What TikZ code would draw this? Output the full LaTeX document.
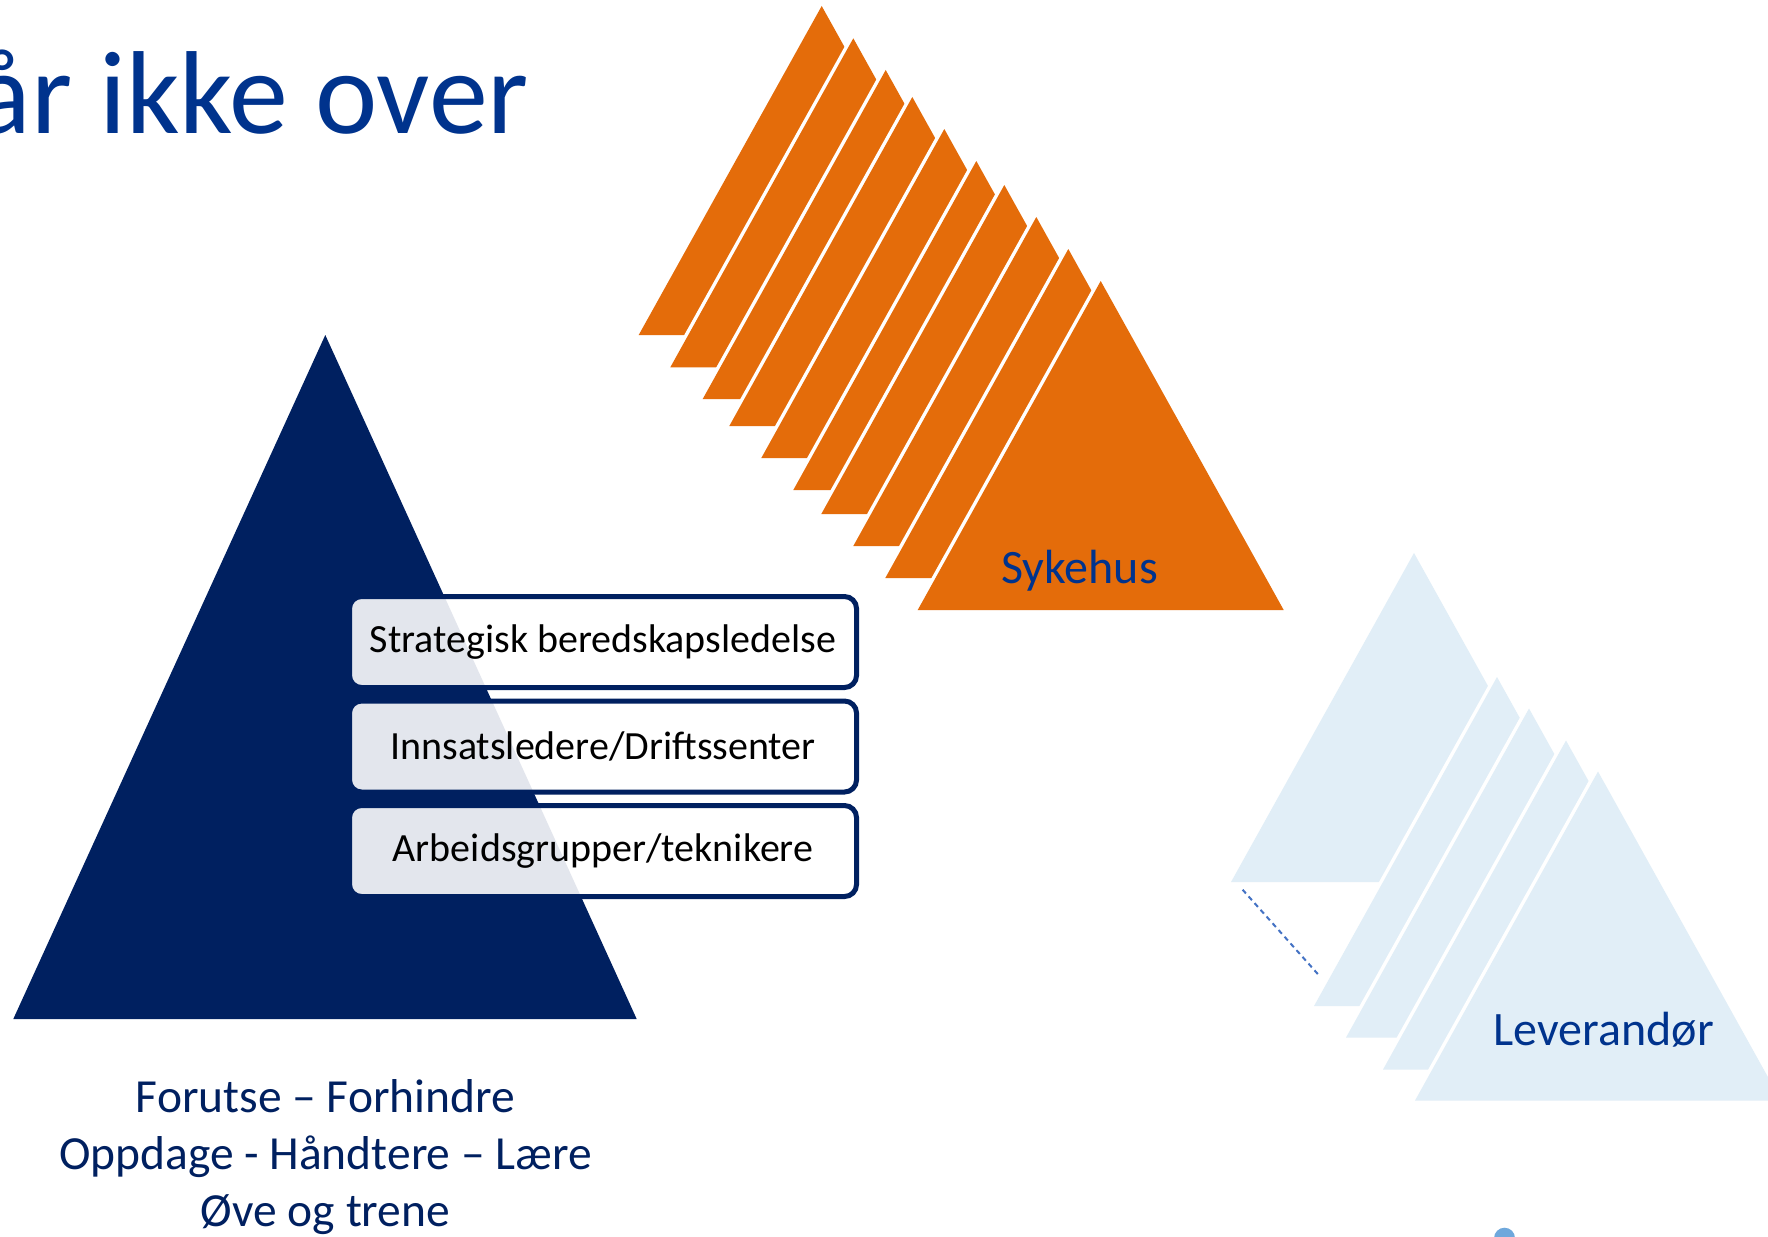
\documentclass[tikz,border=0pt]{standalone}
\usepackage{fontspec}
\setmainfont{Carlito}
\definecolor{navy}{HTML}{002060}
\definecolor{titleblue}{HTML}{00338D}
\definecolor{orng}{HTML}{E46C0A}
\definecolor{lblue}{HTML}{E1EEF7}
\definecolor{dashblue}{HTML}{4472C4}
\definecolor{dotblue}{HTML}{6FA8DC}
\tikzset{
  gapline/.style={draw=white, line width=7pt},
  levelbox/.style={draw=navy, line width=5pt, rounded corners=12pt, fill=white,
    fill opacity=0.89, text opacity=1, minimum width=507pt, minimum height=91pt,
    inner sep=0pt, text=black, font=\fontsize{40}{48}\selectfont},
  trilabel/.style={anchor=base west, inner sep=0pt, text=titleblue, font=\fontsize{48}{58}\selectfont},
  bottomline/.style={anchor=base, inner sep=0pt, text=navy, font=\fontsize{47.5}{57}\selectfont},
  dashline/.style={draw=dashblue, line width=2pt, dash pattern=on 5pt off 4pt}
}
\begin{document}
\begin{tikzpicture}[x=1pt,y=-1pt]
\clip (0,0) rectangle (1768,1236);
\fill[white] (0,0) rectangle (1768,1236);

% title
\node[anchor=base east, inner sep=0pt, text=titleblue, font=\fontsize{118}{140}\selectfont] (title) at (529,133) {år ikke over};

% orange stacked triangles (Sykehus)
\foreach \ax/\ay [count=\i] in {821.7/6, 853.3/38.3, 885.7/70, 912.3/97, 944.3/129, 976.3/161, 1004.3/185, 1036.3/217, 1068.3/249, 1100.7/281} {
  \ifnum\i>1 \draw[gapline] (\ax,\ay) -- (\ax-183,\ay+329); \fi
  \fill[orng] (\ax,\ay) -- (\ax+183,\ay+329) -- (\ax-183,\ay+329) -- cycle;
}
\node[trilabel] (syk) at (1001,583.3) {Sykehus};

% light blue stacked triangles (Leverandør)
\foreach \ax/\ay [count=\i] in {1414/553, 1497/677, 1529/708.5, 1566/740.5, 1598/771.5} {
  \ifnum\i>1 \draw[gapline] (\ax,\ay) -- (\ax-183,\ay+329); \fi
  \fill[lblue] (\ax,\ay) -- (\ax+183,\ay+329) -- (\ax-183,\ay+329) -- cycle;
}
\node[trilabel] (lev) at (1493.6,1045.4) {Leverandør};

\coordinate (d1) at (1242.6,889.7);
\coordinate (d2) at (1320,976.5);
\draw[dashline] (d1) -- (d2);

% navy pyramid
\fill[navy] (325.3,335) -- (636.7,1019) -- (13.3,1019) -- cycle;

% level boxes
\node[levelbox] (b1) at (603,642) {Strategisk beredskapsledelse};
\node[levelbox] (b2) at (603,746.5) {Innsatsledere/Driftssenter};
\node[levelbox] (b3) at (603,851) {Arbeidsgrupper/teknikere};

% bottom text
\node[bottomline] (l1) at (325.5,1112) {Forutse – Forhindre};
\node[bottomline] (l2) at (325.5,1169) {Oppdage - Håndtere – Lære};
\node[bottomline] (l3) at (325.5,1226) {Øve og trene};

% dot
\fill[dotblue] (1504.5,1238.2) circle (10.5);
\end{tikzpicture}
\end{document}
